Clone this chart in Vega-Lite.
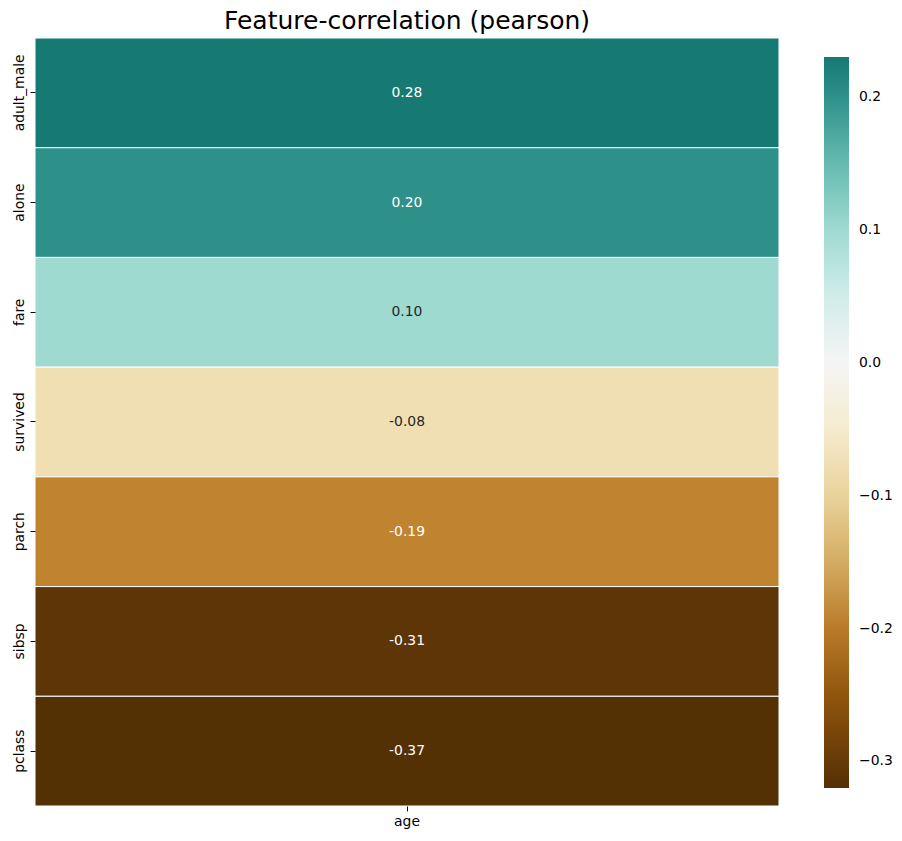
{
  "$schema": "https://vega.github.io/schema/vega-lite/v6.json",
  "autosize": "none",
  "width": 744,
  "height": 768,
  "padding": {"left": 35, "top": 38, "right": 123, "bottom": 35},
  "background": "white",
  "config": {"view": {"stroke": null}, "font": "DejaVu Sans"},
  "title": {"text": "Feature-correlation (pearson)", "fontSize": 25, "fontWeight": "normal", "color": "black", "font": "DejaVu Sans", "anchor": "middle", "offset": 4},
  "data": {"values": [
    {"feature": "adult_male", "target": "age", "corr": 0.28},
    {"feature": "alone", "target": "age", "corr": 0.20},
    {"feature": "fare", "target": "age", "corr": 0.10},
    {"feature": "survived", "target": "age", "corr": -0.08},
    {"feature": "parch", "target": "age", "corr": -0.19},
    {"feature": "sibsp", "target": "age", "corr": -0.31},
    {"feature": "pclass", "target": "age", "corr": -0.37}
  ]},
  "encoding": {
    "x": {"field": "target", "type": "nominal", "title": null,
      "scale": {"paddingInner": 0, "paddingOuter": 0},
      "axis": {"labelAngle": 0, "labelFontSize": 13.9, "labelColor": "black", "tickSize": 4.9, "tickColor": "black", "domain": false, "labelPadding": 4}},
    "y": {"field": "feature", "type": "nominal", "sort": null, "title": null,
      "scale": {"paddingInner": 0, "paddingOuter": 0},
      "axis": {"labelAngle": -90, "labelAlign": "center", "labelBaseline": "bottom", "labelFontSize": 13.9, "labelColor": "black", "tickSize": 4.9, "tickColor": "black", "domain": false, "labelPadding": 4}}
  },
  "layer": [
    {
      "mark": {"type": "rect", "stroke": "white", "strokeWidth": 1},
      "encoding": {
        "color": {"field": "corr", "type": "quantitative",
          "scale": {
            "domain": [-0.32, -0.256, -0.192, -0.128, -0.064, 0, 0.064, 0.128, 0.192, 0.23],
            "range": ["#543005", "#8c510a", "#bf812d", "#dfc27d", "#f6e8c3", "#f5f5f5", "#c7eae5", "#80cdc1", "#35978f", "#167a72"],
            "interpolate": "rgb",
            "clamp": true
          },
          "legend": {"title": null, "orient": "none", "legendX": 789, "legendY": 19, "direction": "vertical",
            "gradientLength": 731, "gradientThickness": 25, "gradientStrokeWidth": 0,
            "values": [-0.3, -0.2, -0.1, 0, 0.1, 0.2], "format": ".1f",
            "labelExpr": "replace(datum.label, '-', '\u2212')",
            "labelFontSize": 13.9, "labelColor": "black", "labelOffset": 10, "labelOverlap": false}
        }
      }
    },
    {
      "mark": {"type": "text", "fontSize": 13.9, "font": "DejaVu Sans",
        "text": {"expr": "replace(format(datum.corr, '.2f'), '\u2212', '-')"}},
      "encoding": {
        "color": {"condition": {"test": "datum.corr > -0.15 && datum.corr < 0.15", "value": "#262626"}, "value": "white"}
      }
    }
  ]
}
